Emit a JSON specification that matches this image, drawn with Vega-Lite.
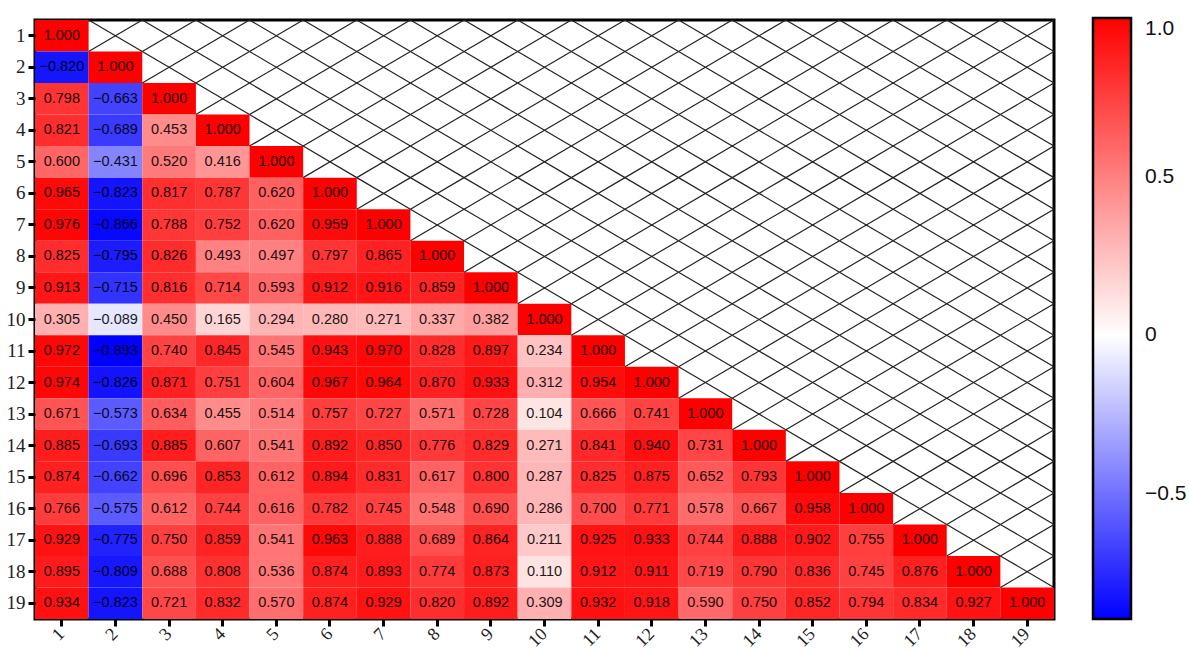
{
  "$schema": "https://vega.github.io/schema/vega-lite/v6.json",
  "width": 1019,
  "height": 599,
  "autosize": {"type": "none"},
  "padding": {"left": 35, "top": 20, "right": 135, "bottom": 33},
  "background": "white",
  "config": {"view": {"stroke": "#000000", "strokeWidth": 3}},
  "data": {"values": [
    {"r":1,"c":1,"v":1.000},
    {"r":2,"c":1,"v":-0.820},{"r":2,"c":2,"v":1.000},
    {"r":3,"c":1,"v":0.798},{"r":3,"c":2,"v":-0.663},{"r":3,"c":3,"v":1.000},
    {"r":4,"c":1,"v":0.821},{"r":4,"c":2,"v":-0.689},{"r":4,"c":3,"v":0.453},{"r":4,"c":4,"v":1.000},
    {"r":5,"c":1,"v":0.600},{"r":5,"c":2,"v":-0.431},{"r":5,"c":3,"v":0.520},{"r":5,"c":4,"v":0.416},{"r":5,"c":5,"v":1.000},
    {"r":6,"c":1,"v":0.965},{"r":6,"c":2,"v":-0.823},{"r":6,"c":3,"v":0.817},{"r":6,"c":4,"v":0.787},{"r":6,"c":5,"v":0.620},{"r":6,"c":6,"v":1.000},
    {"r":7,"c":1,"v":0.976},{"r":7,"c":2,"v":-0.866},{"r":7,"c":3,"v":0.788},{"r":7,"c":4,"v":0.752},{"r":7,"c":5,"v":0.620},{"r":7,"c":6,"v":0.959},{"r":7,"c":7,"v":1.000},
    {"r":8,"c":1,"v":0.825},{"r":8,"c":2,"v":-0.795},{"r":8,"c":3,"v":0.826},{"r":8,"c":4,"v":0.493},{"r":8,"c":5,"v":0.497},{"r":8,"c":6,"v":0.797},{"r":8,"c":7,"v":0.865},{"r":8,"c":8,"v":1.000},
    {"r":9,"c":1,"v":0.913},{"r":9,"c":2,"v":-0.715},{"r":9,"c":3,"v":0.816},{"r":9,"c":4,"v":0.714},{"r":9,"c":5,"v":0.593},{"r":9,"c":6,"v":0.912},{"r":9,"c":7,"v":0.916},{"r":9,"c":8,"v":0.859},{"r":9,"c":9,"v":1.000},
    {"r":10,"c":1,"v":0.305},{"r":10,"c":2,"v":-0.089},{"r":10,"c":3,"v":0.450},{"r":10,"c":4,"v":0.165},{"r":10,"c":5,"v":0.294},{"r":10,"c":6,"v":0.280},{"r":10,"c":7,"v":0.271},{"r":10,"c":8,"v":0.337},{"r":10,"c":9,"v":0.382},{"r":10,"c":10,"v":1.000},
    {"r":11,"c":1,"v":0.972},{"r":11,"c":2,"v":-0.893},{"r":11,"c":3,"v":0.740},{"r":11,"c":4,"v":0.845},{"r":11,"c":5,"v":0.545},{"r":11,"c":6,"v":0.943},{"r":11,"c":7,"v":0.970},{"r":11,"c":8,"v":0.828},{"r":11,"c":9,"v":0.897},{"r":11,"c":10,"v":0.234},{"r":11,"c":11,"v":1.000},
    {"r":12,"c":1,"v":0.974},{"r":12,"c":2,"v":-0.826},{"r":12,"c":3,"v":0.871},{"r":12,"c":4,"v":0.751},{"r":12,"c":5,"v":0.604},{"r":12,"c":6,"v":0.967},{"r":12,"c":7,"v":0.964},{"r":12,"c":8,"v":0.870},{"r":12,"c":9,"v":0.933},{"r":12,"c":10,"v":0.312},{"r":12,"c":11,"v":0.954},{"r":12,"c":12,"v":1.000},
    {"r":13,"c":1,"v":0.671},{"r":13,"c":2,"v":-0.573},{"r":13,"c":3,"v":0.634},{"r":13,"c":4,"v":0.455},{"r":13,"c":5,"v":0.514},{"r":13,"c":6,"v":0.757},{"r":13,"c":7,"v":0.727},{"r":13,"c":8,"v":0.571},{"r":13,"c":9,"v":0.728},{"r":13,"c":10,"v":0.104},{"r":13,"c":11,"v":0.666},{"r":13,"c":12,"v":0.741},{"r":13,"c":13,"v":1.000},
    {"r":14,"c":1,"v":0.885},{"r":14,"c":2,"v":-0.693},{"r":14,"c":3,"v":0.885},{"r":14,"c":4,"v":0.607},{"r":14,"c":5,"v":0.541},{"r":14,"c":6,"v":0.892},{"r":14,"c":7,"v":0.850},{"r":14,"c":8,"v":0.776},{"r":14,"c":9,"v":0.829},{"r":14,"c":10,"v":0.271},{"r":14,"c":11,"v":0.841},{"r":14,"c":12,"v":0.940},{"r":14,"c":13,"v":0.731},{"r":14,"c":14,"v":1.000},
    {"r":15,"c":1,"v":0.874},{"r":15,"c":2,"v":-0.662},{"r":15,"c":3,"v":0.696},{"r":15,"c":4,"v":0.853},{"r":15,"c":5,"v":0.612},{"r":15,"c":6,"v":0.894},{"r":15,"c":7,"v":0.831},{"r":15,"c":8,"v":0.617},{"r":15,"c":9,"v":0.800},{"r":15,"c":10,"v":0.287},{"r":15,"c":11,"v":0.825},{"r":15,"c":12,"v":0.875},{"r":15,"c":13,"v":0.652},{"r":15,"c":14,"v":0.793},{"r":15,"c":15,"v":1.000},
    {"r":16,"c":1,"v":0.766},{"r":16,"c":2,"v":-0.575},{"r":16,"c":3,"v":0.612},{"r":16,"c":4,"v":0.744},{"r":16,"c":5,"v":0.616},{"r":16,"c":6,"v":0.782},{"r":16,"c":7,"v":0.745},{"r":16,"c":8,"v":0.548},{"r":16,"c":9,"v":0.690},{"r":16,"c":10,"v":0.286},{"r":16,"c":11,"v":0.700},{"r":16,"c":12,"v":0.771},{"r":16,"c":13,"v":0.578},{"r":16,"c":14,"v":0.667},{"r":16,"c":15,"v":0.958},{"r":16,"c":16,"v":1.000},
    {"r":17,"c":1,"v":0.929},{"r":17,"c":2,"v":-0.775},{"r":17,"c":3,"v":0.750},{"r":17,"c":4,"v":0.859},{"r":17,"c":5,"v":0.541},{"r":17,"c":6,"v":0.963},{"r":17,"c":7,"v":0.888},{"r":17,"c":8,"v":0.689},{"r":17,"c":9,"v":0.864},{"r":17,"c":10,"v":0.211},{"r":17,"c":11,"v":0.925},{"r":17,"c":12,"v":0.933},{"r":17,"c":13,"v":0.744},{"r":17,"c":14,"v":0.888},{"r":17,"c":15,"v":0.902},{"r":17,"c":16,"v":0.755},{"r":17,"c":17,"v":1.000},
    {"r":18,"c":1,"v":0.895},{"r":18,"c":2,"v":-0.809},{"r":18,"c":3,"v":0.688},{"r":18,"c":4,"v":0.808},{"r":18,"c":5,"v":0.536},{"r":18,"c":6,"v":0.874},{"r":18,"c":7,"v":0.893},{"r":18,"c":8,"v":0.774},{"r":18,"c":9,"v":0.873},{"r":18,"c":10,"v":0.110},{"r":18,"c":11,"v":0.912},{"r":18,"c":12,"v":0.911},{"r":18,"c":13,"v":0.719},{"r":18,"c":14,"v":0.790},{"r":18,"c":15,"v":0.836},{"r":18,"c":16,"v":0.745},{"r":18,"c":17,"v":0.876},{"r":18,"c":18,"v":1.000},
    {"r":19,"c":1,"v":0.934},{"r":19,"c":2,"v":-0.823},{"r":19,"c":3,"v":0.721},{"r":19,"c":4,"v":0.832},{"r":19,"c":5,"v":0.570},{"r":19,"c":6,"v":0.874},{"r":19,"c":7,"v":0.929},{"r":19,"c":8,"v":0.820},{"r":19,"c":9,"v":0.892},{"r":19,"c":10,"v":0.309},{"r":19,"c":11,"v":0.932},{"r":19,"c":12,"v":0.918},{"r":19,"c":13,"v":0.590},{"r":19,"c":14,"v":0.750},{"r":19,"c":15,"v":0.852},{"r":19,"c":16,"v":0.794},{"r":19,"c":17,"v":0.834},{"r":19,"c":18,"v":0.927},{"r":19,"c":19,"v":1.000}
  ]},
  "layer": [
    {
      "mark": {"type": "rect"},
      "encoding": {
        "x": {"field": "c", "type": "ordinal", "title": null,
          "scale": {"domain": [1,2,3,4,5,6,7,8,9,10,11,12,13,14,15,16,17,18,19], "paddingInner": 0, "paddingOuter": 0},
          "axis": {"labelAngle": -45, "labelAlign": "right", "labelBaseline": "middle", "labelFont": "Liberation Serif", "labelFontSize": 18, "labelColor": "#222222", "labelPadding": 5, "tickColor": "#000000", "tickWidth": 3, "tickSize": 7, "domain": false}},
        "y": {"field": "r", "type": "ordinal", "title": null,
          "scale": {"domain": [1,2,3,4,5,6,7,8,9,10,11,12,13,14,15,16,17,18,19], "paddingInner": 0, "paddingOuter": 0},
          "axis": {"labelAngle": 0, "labelFont": "Liberation Serif", "labelFontSize": 19, "labelColor": "#222222", "labelPadding": 3, "tickColor": "#000000", "tickWidth": 3, "tickSize": 7, "domain": false}},
        "color": {"field": "v", "type": "quantitative", "title": null,
          "scale": {"domain": [-0.893, 0, 1], "range": ["#0000ff", "#ffffff", "#ff0000"], "interpolate": "rgb"},
          "legend": {"orient": "none", "legendX": 1058, "legendY": -2, "direction": "vertical", "gradientLength": 601, "gradientThickness": 38, "gradientStrokeColor": "#000000", "gradientStrokeWidth": 2.5, "values": [-0.5, 0, 0.5, 1], "labelExpr": "datum.value == 0 ? '0' : format(datum.value, '.1f')", "labelFont": "Liberation Sans", "labelFontSize": 21, "labelColor": "#111111", "labelOffset": 14, "labelBaseline": "middle", "padding": 0, "labelOverlap": false}}
      }
    },
    {
      "mark": {"type": "text", "font": "Liberation Sans", "fontSize": 14.5, "color": "#000000", "opacity": 0.88},
      "encoding": {
        "x": {"field": "c", "type": "ordinal", "title": null},
        "y": {"field": "r", "type": "ordinal", "title": null},
        "text": {"field": "v", "type": "quantitative", "format": ".3f"}
      }
    },
    {
      "transform": [{"filter": "datum.c < datum.r"}],
      "mark": {"type": "rule", "stroke": "#222222", "strokeWidth": 1.2},
      "encoding": {
        "x": {"field": "r", "type": "ordinal", "bandPosition": 0, "title": null},
        "x2": {"field": "r", "bandPosition": 1},
        "y": {"field": "c", "type": "ordinal", "bandPosition": 0, "title": null},
        "y2": {"field": "c", "bandPosition": 1}
      }
    },
    {
      "transform": [{"filter": "datum.c < datum.r"}],
      "mark": {"type": "rule", "stroke": "#222222", "strokeWidth": 1.2},
      "encoding": {
        "x": {"field": "r", "type": "ordinal", "bandPosition": 0, "title": null},
        "x2": {"field": "r", "bandPosition": 1},
        "y": {"field": "c", "type": "ordinal", "bandPosition": 1, "title": null},
        "y2": {"field": "c", "bandPosition": 0}
      }
    }
  ]
}
